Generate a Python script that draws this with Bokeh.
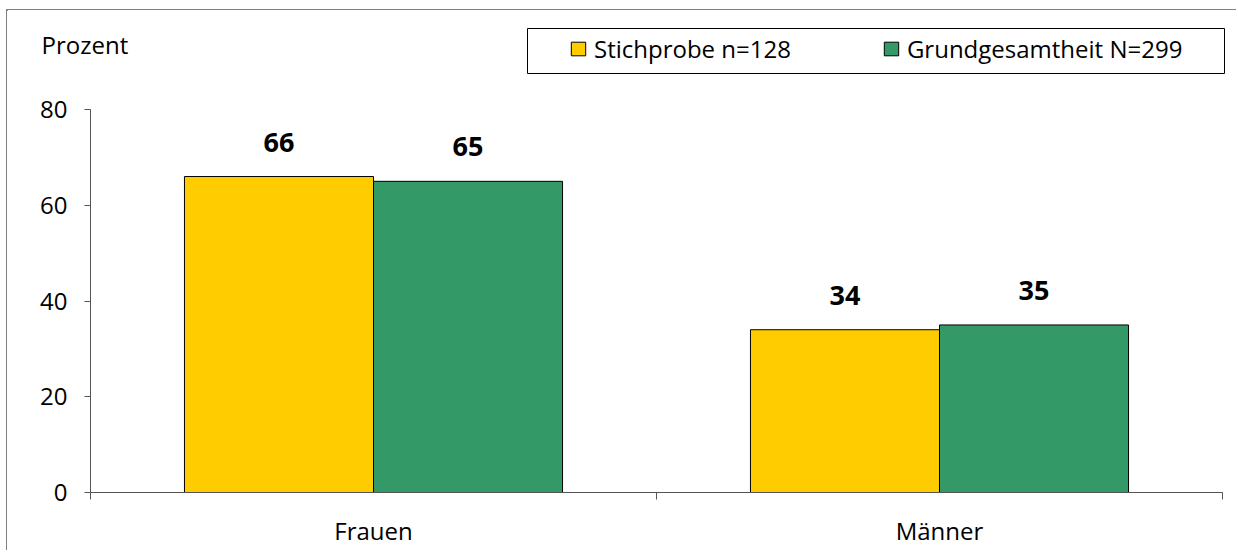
from bokeh.plotting import figure
from bokeh.models import (ColumnDataSource, Range1d, FixedTicker, Legend, LegendItem,
                          LabelSet, Label, BoxAnnotation, Column)
from bokeh.transform import dodge
from bokeh.core.properties import value
from bokeh.embed import file_html
from bokeh.resources import INLINE

categories = ["Frauen", "Männer"]
series_names = ["Stichprobe n=128", "Grundgesamtheit N=299"]
stichprobe = [66, 34]
grundgesamtheit = [65, 35]
colors = ["#FFCC00", "#339966"]
y_ticks = [0, 20, 40, 60, 80]
y_label = "Prozent"

FONT = "Open Sans"
AXIS_COLOR = "#555555"
W = 1229

# ---------- header (y label + legend) ----------
HEAD_H = 80
head = figure(width=W, height=HEAD_H, output_backend="svg", toolbar_location=None,
              x_range=Range1d(0, W), y_range=Range1d(HEAD_H, 0), min_border=0)
head.frame_align = False
head.axis.visible = False
head.grid.grid_line_color = None
head.outline_line_color = None

# legend-only renderers, placed outside the visible range
dummy = ColumnDataSource(dict(x=[-1000], top=[0]))
d1 = head.vbar(x="x", top="top", width=1, source=dummy, fill_color=colors[0], line_color="black")
d2 = head.vbar(x="x", top="top", width=1, source=dummy, fill_color=colors[1], line_color="black")

head.add_layout(Label(x=34, y=34, text=y_label, text_font=FONT, text_font_size="24px",
                      text_baseline="alphabetic", text_color="black"))
head.add_layout(BoxAnnotation(left=520, right=1217, top=18, bottom=63,
                              fill_color="white", fill_alpha=1, line_color="black",
                              line_width=1, line_alpha=1))
legend = Legend(items=[LegendItem(label=series_names[0], renderers=[d1]),
                       LegendItem(label=series_names[1], renderers=[d2])],
                orientation="horizontal", location=(562, 25), padding=0, spacing=91,
                glyph_width=18, glyph_height=17, label_standoff=7, margin=0,
                border_line_alpha=0, background_fill_alpha=0,
                label_text_font=FONT, label_text_font_size="24px",
                label_text_color="black")
head.add_layout(legend)

# ---------- main chart ----------
centers = [i + 0.5 for i in range(len(categories))]
src = ColumnDataSource(dict(
    x=centers,
    s1=stichprobe, s2=grundgesamtheit,
    l1=[str(v) for v in stichprobe], l2=[str(v) for v in grundgesamtheit],
))

p = figure(width=W, height=460, output_backend="svg", toolbar_location=None,
           x_range=Range1d(0, len(categories)), y_range=Range1d(0, 80),
           min_border_left=83, min_border_right=W + 7 - 1222, min_border_top=19,
           min_border_bottom=58)
p.frame_align = False
p.outline_line_color = None
p.xgrid.grid_line_color = None
p.ygrid.grid_line_color = None

bw = 0.334
off = bw / 2
p.vbar(x=dodge("x", -off, range=p.x_range), top="s1", width=bw, source=src,
       fill_color=colors[0], line_color="black", line_width=1)
p.vbar(x=dodge("x", off, range=p.x_range), top="s2", width=bw, source=src,
       fill_color=colors[1], line_color="black", line_width=1)

for col, lab, o in (("s1", "l1", -off), ("s2", "l2", off)):
    p.add_layout(LabelSet(x=dodge("x", o, range=p.x_range), y=col, text=lab, source=src,
                          y_offset=25, text_align="center", text_baseline="alphabetic",
                          text_font=value(FONT), text_font_style="bold",
                          text_font_size="27px", text_color="black"))

xa = p.xaxis[0]
xa.ticker = FixedTicker(ticks=centers, minor_ticks=list(range(len(categories) + 1)))
xa.major_label_overrides = {c: name for c, name in zip(centers, categories)}
xa.major_tick_in = 0
xa.major_tick_out = 0
xa.minor_tick_in = 0
xa.minor_tick_out = 7
xa.minor_tick_line_color = AXIS_COLOR
xa.axis_line_color = AXIS_COLOR
xa.major_label_standoff = 14
xa.major_label_text_font = FONT
xa.major_label_text_font_size = "24px"
xa.major_label_text_color = "black"

ya = p.yaxis[0]
ya.ticker = FixedTicker(ticks=y_ticks, minor_ticks=[])
ya.major_tick_in = 0
ya.major_tick_out = 6
ya.major_tick_line_color = AXIS_COLOR
ya.axis_line_color = AXIS_COLOR
ya.minor_tick_line_color = None
ya.major_label_standoff = 17
ya.major_label_text_font = FONT
ya.major_label_text_font_size = "24px"
ya.major_label_text_color = "black"

layout = Column(head, p, spacing=0, margin=(9, 0, 0, 6),
                styles={"border-left": "1px solid #808080", "border-top": "1px solid #808080"})

open("out.html", "w").write(file_html(layout, INLINE))
